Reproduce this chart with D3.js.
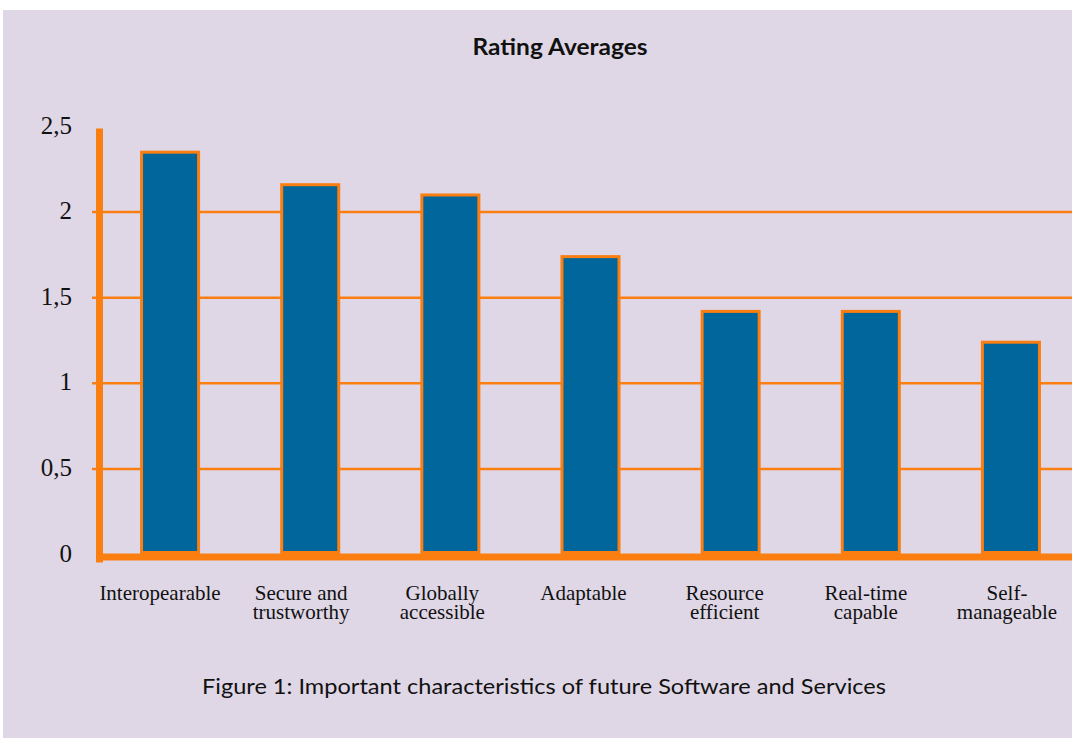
<!DOCTYPE html>
<html>
<head>
<meta charset="utf-8">
<script src="https://cdn.jsdelivr.net/npm/d3@7"></script>
<style>
  html, body { margin: 0; padding: 0; background: #ffffff; }
  svg { display: block; }
</style>
</head>
<body>
<svg id="chart" width="1072" height="738"></svg>
<script>
// ---- data ----
const categories = ["Interopearable", "Secure and trustworthy", "Globally accessible", "Adaptable", "Resource efficient", "Real-time capable", "Self-manageable"];
const labelLines = [["Interopearable"], ["Secure and", "trustworthy"], ["Globally", "accessible"], ["Adaptable"], ["Resource", "efficient"], ["Real-time", "capable"], ["Self-", "manageable"]];
const values = [2.35, 2.16, 2.10, 1.74, 1.42, 1.42, 1.24];
const yTicks = [0, 0.5, 1, 1.5, 2, 2.5];
const yTickLabels = ["0", "0,5", "1", "1,5", "2", "2,5"];
const gridValues = [0.5, 1, 1.5, 2];
const title = "Rating Averages";
const caption = "Figure 1:  Important characteristics of future Software and Services";

// ---- styles ----
const ORANGE = "#fb7e10";
const BLUE = "#00669c";
const BG = "#dfd7e6";

const svg = d3.select("#chart");

svg.append("rect").attr("x", 3).attr("y", 10).attr("width", 1069).attr("height", 728).attr("fill", BG);

const x = d3.scaleBand().domain(categories).range([100, 1081]).paddingInner(0.593).paddingOuter(0.2965);
const y = d3.scaleLinear().domain([0, 2.5]).range([554.5, 126.5]);
// label positions (labels sit slightly left of bar centres in the reference)
const xLabel = d3.scalePoint().domain(categories).range([160, 1007]);

// gridlines
svg.append("g").selectAll("line").data(gridValues).join("line")
  .attr("x1", 92).attr("x2", 1072)
  .attr("y1", d => y(d)).attr("y2", d => y(d))
  .attr("stroke", ORANGE).attr("stroke-width", 2.5);

// bars
svg.append("g").selectAll("rect").data(values).join("rect")
  .attr("x", (d, i) => x(categories[i]))
  .attr("y", d => y(d))
  .attr("width", x.bandwidth())
  .attr("height", d => y(0) - y(d) - 2)
  .attr("fill", BLUE)
  .attr("stroke", ORANGE).attr("stroke-width", 3);

// y axis line
svg.append("line")
  .attr("x1", 99.5).attr("x2", 99.5)
  .attr("y1", y(2.5) + 2).attr("y2", y(0) + 8)
  .attr("stroke", ORANGE).attr("stroke-width", 7);

// baseline
svg.append("line")
  .attr("x1", 96).attr("x2", 1072)
  .attr("y1", y(0) + 2.5).attr("y2", y(0) + 2.5)
  .attr("stroke", ORANGE).attr("stroke-width", 7);

// y tick labels
svg.append("g").selectAll("text").data(yTicks).join("text")
  .attr("x", 72).attr("y", d => y(d) + 7)
  .attr("text-anchor", "end")
  .attr("font-family", "'Liberation Serif', 'Times New Roman', serif")
  .attr("font-size", 25).attr("fill", "#111")
  .text((d, i) => yTickLabels[i]);

// x labels
const xl = svg.append("g").selectAll("text").data(labelLines).join("text")
  .attr("text-anchor", "middle")
  .attr("font-family", "'Liberation Serif', 'Times New Roman', serif")
  .attr("font-size", 21).attr("fill", "#111")
  .attr("transform", (d, i) => `translate(${xLabel(categories[i])},600)`);
xl.selectAll("tspan").data(d => d).join("tspan")
  .attr("x", 0).attr("y", (d, j) => j * 19)
  .text(d => d);

// title
svg.append("text")
  .attr("x", 560).attr("y", 55)
  .attr("text-anchor", "middle")
  .attr("font-family", "Lato, 'Open Sans', sans-serif")
  .attr("font-weight", "bold").attr("font-size", 22).attr("fill", "#111")
  .attr("textLength", 175).attr("lengthAdjust", "spacingAndGlyphs")
  .text(title);

// caption
svg.append("text")
  .attr("x", 544).attr("y", 694)
  .attr("text-anchor", "middle")
  .attr("font-family", "Lato, 'Open Sans', sans-serif")
  .attr("font-size", 22).attr("fill", "#111")
  .attr("textLength", 684).attr("lengthAdjust", "spacingAndGlyphs")
  .text(caption);
</script>
</body>
</html>
